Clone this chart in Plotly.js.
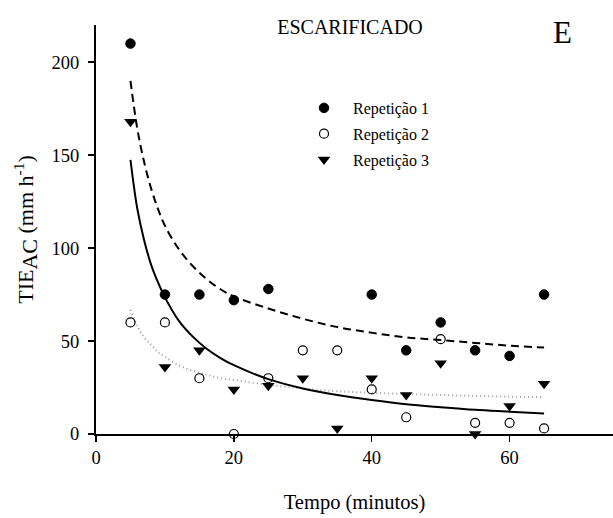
<!DOCTYPE html>
<html>
<head>
<meta charset="utf-8">
<script src="https://cdn.plot.ly/plotly-3.0.1.min.js"></script>
<style>html,body{margin:0;padding:0;background:#fff;}#chart{width:613px;height:518px;}</style>
</head>
<body>
<div id="chart"></div>
<script>
// Observed data (Tempo, minutos)
const tempoRep1 = [5, 10, 15, 20, 25, 40, 45, 50, 55, 60, 65];
const rep1 = [210, 75, 75, 72, 78, 75, 45, 60, 45, 42, 75];
const tempoRep2 = [5, 10, 15, 20, 25, 30, 35, 40, 45, 50, 55, 60, 65];
const rep2 = [60, 60, 30, 0, 30, 45, 45, 24, 9, 51, 6, 6, 3];
const tempoRep3 = [5, 10, 15, 20, 25, 30, 35, 40, 45, 50, 55, 60, 65];
const rep3 = [168, 36, 45, 24, 26, 30, 3, 30, 21, 38, 0, 15, 27];

// Fitted curves
const tempoFit = [5, 6, 7, 8, 9, 10, 12, 14, 16, 18, 20, 25, 30, 35, 40, 45, 50, 55, 60, 65];
const fitRep1 = [190, 164, 146, 132, 121, 112, 99.5, 90.5, 83.5, 78, 74, 67.5, 62, 57.5, 54.5, 52, 50.5, 49, 47.5, 46.5];
const fitRep2 = [66.8, 58, 52, 48, 44, 41.5, 37, 34, 32, 30, 29, 26.5, 24.5, 23, 22.2, 21.5, 21, 20.5, 20.1, 19.8];
const fitRep3 = [147.5, 121, 104, 91, 81.5, 73.5, 61, 52.5, 46, 41, 37, 29.5, 24.5, 21, 18.3, 16, 14.4, 13, 12, 11];

const seriesNames = ['Repetição 1', 'Repetição 2', 'Repetição 3'];
const xTicks = [0, 20, 40, 60];
const yTicks = [0, 50, 100, 150, 200];

const serif = 'Liberation Serif';

const traces = [
  {x: tempoFit, y: fitRep1, mode: 'lines', line: {color: '#000', width: 2, dash: '8px,5px', shape: 'spline', smoothing: 1}, showlegend: false, hoverinfo: 'skip'},
  {x: tempoFit, y: fitRep2, mode: 'lines', line: {color: '#9a9f9d', width: 2, dash: '1px,3px', shape: 'spline', smoothing: 1}, showlegend: false, hoverinfo: 'skip'},
  {x: tempoFit, y: fitRep3, mode: 'lines', line: {color: '#000', width: 2, shape: 'spline', smoothing: 1}, showlegend: false, hoverinfo: 'skip'},
  {x: tempoRep1, y: rep1, mode: 'markers', name: seriesNames[0], legendgroup: 'a', cliponaxis: false,
   marker: {symbol: 'circle', size: 9.5, color: '#000', line: {color: '#000', width: 1}}},
  {x: tempoRep2, y: rep2, mode: 'markers', name: seriesNames[1], legendgroup: 'b', cliponaxis: false,
   marker: {symbol: 'circle-open', size: 9, color: '#000', line: {color: '#000', width: 1.2}}},
  {x: tempoRep3, y: rep3, mode: 'markers', name: seriesNames[2], legendgroup: 'c', cliponaxis: false,
   marker: {symbol: 'triangle-down', size: 11, color: '#000', line: {color: '#000', width: 0}}}
];

const layout = {
  width: 613, height: 518,
  margin: {l: 96, r: 0, t: 25, b: 84},
  paper_bgcolor: '#fff', plot_bgcolor: '#fff',
  font: {family: serif, color: '#000', size: 18},
  title: {text: 'ESCARIFICADO', font: {family: serif, size: 20, color: '#000'},
          xref: 'container', x: 350/613, xanchor: 'center', yref: 'container', y: 1 - 27/518, yanchor: 'middle'},
  xaxis: {
    range: [0, 75], tickvals: xTicks, ticks: 'outside', ticklen: 6, tickwidth: 1.5, tickcolor: '#000',
    showline: true, linecolor: '#000', linewidth: 2, showgrid: false, zeroline: false,
    tickfont: {family: serif, size: 18.5, color: '#000'},
    title: {text: 'Tempo (minutos)', font: {family: serif, size: 20.5, color: '#000'}, standoff: 27}
  },
  yaxis: {
    range: [0, 220], tickvals: yTicks, ticks: 'outside', ticklen: 6, tickwidth: 1.5, tickcolor: '#000',
    showline: true, linecolor: '#000', linewidth: 2, showgrid: false, zeroline: false,
    tickfont: {family: serif, size: 18.5, color: '#000'}, ticklabelstandoff: 5,
    title: {text: 'TIE<sub><span style="font-size:22px">AC</span></sub> (mm h<sup>-1</sup>)', font: {family: serif, size: 22, color: '#000'}, standoff: 12}
  },
  legend: {x: (295 - 96)/517, y: (434 - 91)/409, xanchor: 'left', yanchor: 'top',
           bgcolor: 'rgba(0,0,0,0)', font: {family: serif, size: 16, color: '#000'},
           tracegroupgap: 2, itemwidth: 48},
  annotations: [
    {text: 'E', xref: 'paper', yref: 'paper', x: (562 - 96)/517, y: (434 - 32)/409,
     xanchor: 'center', yanchor: 'middle', showarrow: false, font: {family: serif, size: 31, color: '#000'}}
  ]
};

Plotly.newPlot('chart', traces, layout, {displayModeBar: false, staticPlot: true});
</script>
</body>
</html>
